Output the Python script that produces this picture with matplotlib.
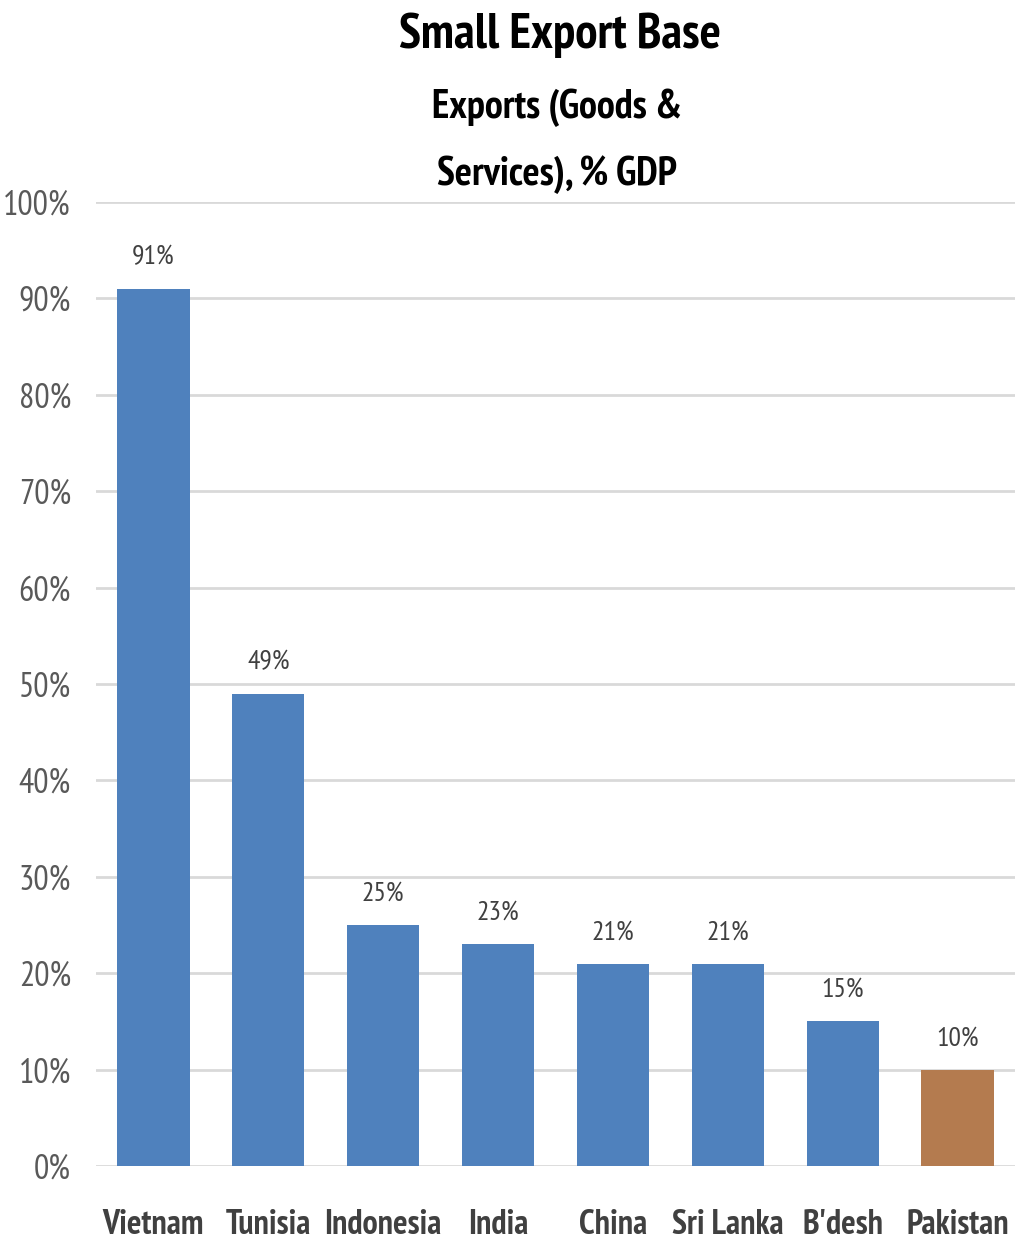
import matplotlib
matplotlib.use("Agg")
import matplotlib.pyplot as plt
from matplotlib.ticker import MultipleLocator, FuncFormatter

categories = ["Vietnam", "Tunisia", "Indonesia", "India", "China", "Sri Lanka", "B'desh", "Pakistan"]
values = [91, 49, 25, 23, 21, 21, 15, 10]
colors = ["#4F81BD"] * 7 + ["#B47B4F"]

plt.rcParams['font.family'] = ['PT Sans Narrow', 'DejaVu Sans']

fig = plt.figure(figsize=(10.15, 12.4), dpi=100)
ax = fig.add_axes([96/1015, 74/1240, 919/1015, 964/1240])
x = range(len(categories))
ax.bar(x, values, width=0.63, color=colors, zorder=3)
for xi, v in zip(x, values):
    ax.text(xi, v + 2.0, f"{v}%", ha='center', va='bottom', fontsize=20, color='#404040')

ax.set_xlim(-0.5, len(categories) - 0.5)
ax.set_ylim(0, 100)
ax.yaxis.set_major_locator(MultipleLocator(10))
ax.yaxis.set_major_formatter(FuncFormatter(lambda v, p: f"{int(round(v))}%"))
ax.grid(axis='y', color='#d9d9d9', linewidth=2, zorder=0)
for s in ax.spines.values():
    s.set_visible(False)
ax.tick_params(axis='y', length=0, labelsize=24.5, labelcolor='#595959', pad=18)
ax.tick_params(axis='x', length=0, labelsize=24.5, labelcolor='#404040', pad=31)
ax.set_xticks(list(x))
ax.set_xticklabels(categories, fontweight='bold')

fig.text(0.552, 1 - 35/1240, "Small Export Base", ha='center', va='center', fontsize=36, fontweight='bold', color='black')
fig.text(0.549, 1 - 108/1240, "Exports (Goods &", ha='center', va='center', fontsize=29, fontweight='bold', color='black')
fig.text(0.549, 1 - 175/1240, "Services), % GDP", ha='center', va='center', fontsize=29, fontweight='bold', color='black')

fig.savefig("out.png", dpi=100, facecolor='white')
